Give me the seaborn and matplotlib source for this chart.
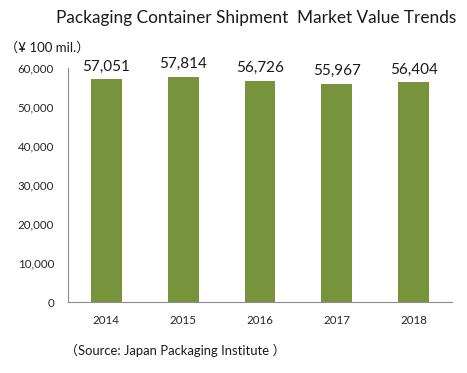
import matplotlib
matplotlib.use("Agg")
import matplotlib.pyplot as plt
import seaborn as sns
from matplotlib.ticker import FuncFormatter, FixedLocator

years = ['2014', '2015', '2016', '2017', '2018']
values = [57051, 57814, 56726, 55967, 56404]
yticks = [0, 10000, 20000, 30000, 40000, 50000, 60000]

title = 'Packaging Container Shipment  Market Value Trends'
unit_label = '（¥ 100 mil.）'
source_label = '（Source: Japan Packaging Institute ）'

sns.set_style('white')
plt.rcParams['font.family'] = ['Lato', 'Noto Sans CJK JP', 'DejaVu Sans']

fig = plt.figure(figsize=(4.67, 3.73), dpi=100)
ax = fig.add_axes([0.1456, 0.1903, 0.8224, 0.6274])

bar_color = '#77933C'
sns.barplot(x=years, y=values, color=bar_color, width=0.4, ax=ax,
            saturation=1, edgecolor='none')

ax.set_ylim(0, 60000)
ax.set_xlim(-0.5, len(years) - 0.5)
ax.set_yticks(yticks)
ax.yaxis.set_major_formatter(FuncFormatter(lambda v, p: f'{int(v):,}'))
ax.set_xlabel('')
ax.set_ylabel('')

# x ticks between categories, labels at centers
ax.xaxis.set_minor_locator(FixedLocator([i - 0.5 for i in range(len(years) + 1)]))
ax.tick_params(axis='x', which='major', length=0, labelsize=8.3, pad=9, colors='#262626')
ax.tick_params(axis='x', which='minor', length=4, color='#8c8c8c', width=0.8)
ax.tick_params(axis='y', length=4, color='#8c8c8c', width=0.8, labelsize=8.3,
               pad=6, labelcolor='#262626')

for side in ['top', 'right']:
    ax.spines[side].set_visible(False)
for side in ['left', 'bottom']:
    ax.spines[side].set_color('#8c8c8c')
    ax.spines[side].set_linewidth(0.8)

ax.bar_label(ax.containers[0], labels=[f'{v:,}' for v in values],
             padding=4, fontsize=11, color='#1a1a1a')

fig.text(0.548, 0.951, title, ha='center', va='center', fontsize=12.4, color='#1a1a1a')
fig.text(0.010, 0.872, unit_label, ha='left', va='center', fontsize=9.5, color='#1a1a1a')
fig.text(0.140, 0.061, source_label, ha='left', va='center', fontsize=9.4, color='#1a1a1a')

fig.savefig('out.png', dpi=100)
